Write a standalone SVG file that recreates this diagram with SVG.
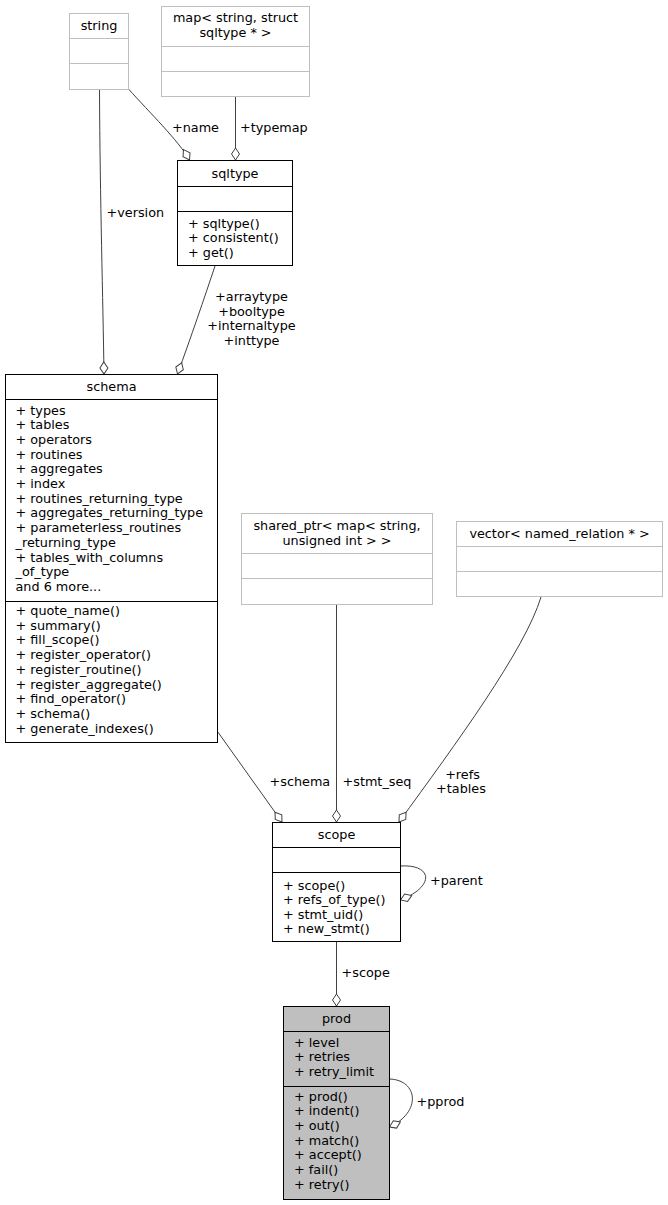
<svg xmlns="http://www.w3.org/2000/svg" width="668" height="1205" viewBox="0 0 668 1205">
<style>
text{font-family:"DejaVu Sans","Liberation Sans",sans-serif;font-size:12.8px;fill:#000}
.c{text-anchor:middle}
.box{fill:#fff;stroke:#000;stroke-width:1}
.ext{fill:#fff;stroke:#bfbfbf;stroke-width:1}
.sel{fill:#bfbfbf;stroke:#000;stroke-width:1}
.dk{stroke:#000;stroke-width:1}
.lt{stroke:#bfbfbf;stroke-width:1}
.e{fill:none;stroke:#404040;stroke-width:1;marker-end:url(#od)}
</style>
<defs>
<marker id="od" markerUnits="userSpaceOnUse" markerWidth="14" markerHeight="11" viewBox="-1 -1 14 11" refX="12" refY="4.5" orient="auto">
<path d="M0,4.5 L6,0.5 L12,4.5 L6,8.5 Z" fill="#fff" stroke="#404040" stroke-width="1"/>
</marker>
</defs>
<rect width="668" height="1205" fill="#fff"/>
<g id="connectors">
<path class="e" d="M128.5,89 C150,113 178,140 189.5,160"/>
<path class="e" d="M235.5,96.5 L235.5,160"/>
<path class="e" d="M99.5,89.5 C100,200 103,300 104,374"/>
<path class="e" d="M215,266 C205,296 190,340 177.5,374"/>
<path class="e" d="M217.5,731.5 L282,822"/>
<path class="e" d="M336.5,604.5 L336.5,822"/>
<path class="e" d="M541,597 C525,650 455,745 399,822"/>
<path class="e" d="M400.5,866 C432,864 436,886 400.5,900"/>
<path class="e" d="M336.5,941.5 L336.5,1006"/>
<path class="e" d="M389.5,1079 C418,1080 422,1112 389.5,1127"/>
<text class="c" x="195.5" y="132">+name</text>
<text x="240" y="132">+typemap</text>
<text x="106.5" y="217">+version</text>
<text class="c" x="251.5" y="301.2">+arraytype</text>
<text class="c" x="251.5" y="315.8">+booltype</text>
<text class="c" x="251.5" y="330.4">+internaltype</text>
<text class="c" x="251.5" y="345">+inttype</text>
<text x="269.5" y="786">+schema</text>
<text x="342.5" y="786">+stmt_seq</text>
<text class="c" x="462.5" y="778.5">+refs</text>
<text class="c" x="461" y="792.5">+tables</text>
<text x="430" y="884.5">+parent</text>
<text x="341.5" y="977">+scope</text>
<text x="416.5" y="1106">+pprod</text>
</g>
<g id="string">
<rect class="ext" x="69.5" y="13.5" width="59" height="76"/>
<line class="lt" x1="69.5" y1="38.5" x2="128.5" y2="38.5"/>
<line class="lt" x1="69.5" y1="63.5" x2="128.5" y2="63.5"/>
<text class="c" x="99" y="30">string</text>
</g>
<g id="map">
<rect class="ext" x="161.5" y="6.5" width="148" height="90"/>
<line class="lt" x1="161.5" y1="46.5" x2="309.5" y2="46.5"/>
<line class="lt" x1="161.5" y1="71.5" x2="309.5" y2="71.5"/>
<text class="c" x="235.5" y="22">map&lt; string, struct</text>
<text class="c" x="235.5" y="37">sqltype * &gt;</text>
</g>
<g id="sqltype">
<rect class="box" x="177.5" y="160.5" width="115" height="105"/>
<line class="dk" x1="177.5" y1="186.5" x2="292.5" y2="186.5"/>
<line class="dk" x1="177.5" y1="211.5" x2="292.5" y2="211.5"/>
<text class="c" x="235" y="177.5">sqltype</text>
<text x="188" y="227.5">+ sqltype()</text>
<text x="188" y="242">+ consistent()</text>
<text x="188" y="256.5">+ get()</text>
</g>
<g id="schema">
<rect class="box" x="5.5" y="374.5" width="212" height="368"/>
<line class="dk" x1="5.5" y1="399.5" x2="217.5" y2="399.5"/>
<line class="dk" x1="5.5" y1="601.5" x2="217.5" y2="601.5"/>
<text class="c" x="111.5" y="391">schema</text>
<text x="15.5" y="414.5">+ types</text>
<text x="15.5" y="429.2">+ tables</text>
<text x="15.5" y="443.9">+ operators</text>
<text x="15.5" y="458.6">+ routines</text>
<text x="15.5" y="473.3">+ aggregates</text>
<text x="15.5" y="488">+ index</text>
<text x="15.5" y="502.7">+ routines_returning_type</text>
<text x="15.5" y="517.4">+ aggregates_returning_type</text>
<text x="15.5" y="532.1">+ parameterless_routines</text>
<text x="15.5" y="546.8">_returning_type</text>
<text x="15.5" y="561.5">+ tables_with_columns</text>
<text x="15.5" y="576.2">_of_type</text>
<text x="15.5" y="590.9">and 6 more...</text>
<text x="15.5" y="615">+ quote_name()</text>
<text x="15.5" y="629.7">+ summary()</text>
<text x="15.5" y="644.4">+ fill_scope()</text>
<text x="15.5" y="659.1">+ register_operator()</text>
<text x="15.5" y="673.8">+ register_routine()</text>
<text x="15.5" y="688.5">+ register_aggregate()</text>
<text x="15.5" y="703.2">+ find_operator()</text>
<text x="15.5" y="717.9">+ schema()</text>
<text x="15.5" y="732.6">+ generate_indexes()</text>
</g>
<g id="shared_ptr">
<rect class="ext" x="241.5" y="513.5" width="191" height="91"/>
<line class="lt" x1="241.5" y1="553.5" x2="432.5" y2="553.5"/>
<line class="lt" x1="241.5" y1="578.5" x2="432.5" y2="578.5"/>
<text class="c" x="337" y="530">shared_ptr&lt; map&lt; string,</text>
<text class="c" x="337" y="544.5">unsigned int &gt; &gt;</text>
</g>
<g id="vector">
<rect class="ext" x="456.5" y="521.5" width="206" height="75"/>
<line class="lt" x1="456.5" y1="546.5" x2="662.5" y2="546.5"/>
<line class="lt" x1="456.5" y1="571.5" x2="662.5" y2="571.5"/>
<text class="c" x="559.5" y="538">vector&lt; named_relation * &gt;</text>
</g>
<g id="scope">
<rect class="box" x="272.5" y="822.5" width="128" height="119"/>
<line class="dk" x1="272.5" y1="847.5" x2="400.5" y2="847.5"/>
<line class="dk" x1="272.5" y1="872.5" x2="400.5" y2="872.5"/>
<text class="c" x="336.5" y="839">scope</text>
<text x="283" y="889.5">+ scope()</text>
<text x="283" y="904">+ refs_of_type()</text>
<text x="283" y="918.5">+ stmt_uid()</text>
<text x="283" y="933">+ new_stmt()</text>
</g>
<g id="prod">
<rect class="sel" x="283.5" y="1006.5" width="106" height="193"/>
<line class="dk" x1="283.5" y1="1031.5" x2="389.5" y2="1031.5"/>
<line class="dk" x1="283.5" y1="1086.5" x2="389.5" y2="1086.5"/>
<text class="c" x="336.5" y="1022.5">prod</text>
<text x="294" y="1046.5">+ level</text>
<text x="294" y="1061">+ retries</text>
<text x="294" y="1075.5">+ retry_limit</text>
<text x="294" y="1100.5">+ prod()</text>
<text x="294" y="1115.2">+ indent()</text>
<text x="294" y="1129.9">+ out()</text>
<text x="294" y="1144.6">+ match()</text>
<text x="294" y="1159.3">+ accept()</text>
<text x="294" y="1174">+ fail()</text>
<text x="294" y="1188.7">+ retry()</text>
</g>
</svg>
